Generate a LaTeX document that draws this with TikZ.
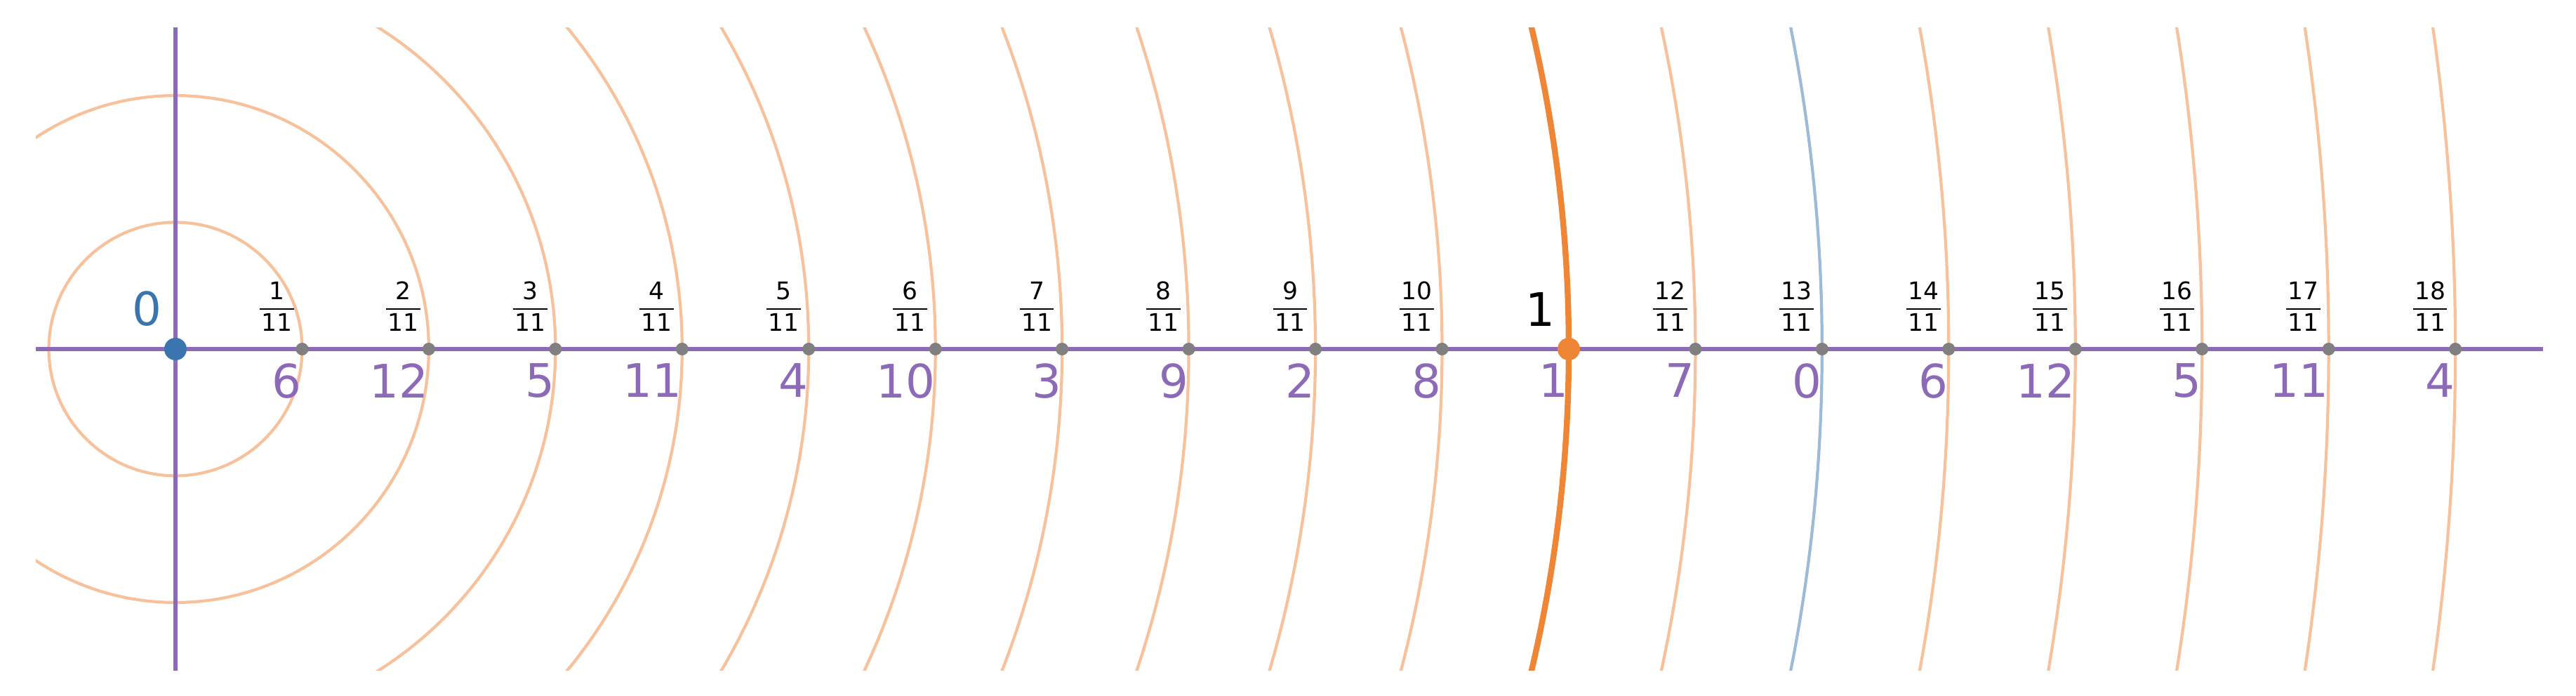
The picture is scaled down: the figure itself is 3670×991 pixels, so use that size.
\documentclass[tikz,border=0pt]{standalone}
\usepackage{fontspec}
\setmainfont{DejaVu Sans}
\definecolor{cpurple}{HTML}{8D6AB8}
\definecolor{cblue}{HTML}{3B75AF}
\definecolor{corange}{HTML}{EF8636}
\definecolor{corangel}{HTML}{F7C29B}
\definecolor{cbluel}{HTML}{9DBAD7}
\definecolor{cgray}{HTML}{808080}
\newcommand{\fracbox}[2]{%
  \setbox0=\hbox{#1}\setbox2=\hbox{#2}%
  \dimen0=\ifdim\wd0>\wd2 \wd0\else\wd2\fi
  \advance\dimen0 by 1.4pt
  \vbox{\hbox to\dimen0{\hss\box0\hss}\kern3.5pt\hrule height0.57pt\kern1.7pt\hbox to\dimen0{\hss\box2\hss}}}
\begin{document}
\begin{tikzpicture}[x=0.01cm,y=0.01cm,
  lightcirc/.style={draw=corangel,line width=1.2pt},
  thickcirc/.style={draw=corange,line width=2.4pt},
  bluecirc/.style={draw=cbluel,line width=1.2pt},
  axisline/.style={draw=cpurple,line width=1.55pt},
  graydot/.style={circle,fill=cgray,inner sep=0pt,minimum size=0.18cm},
  bigdot/.style={circle,inner sep=0pt,minimum size=0.32cm},
  biglabel/.style={inner sep=0pt,font=\fontsize{18.7}{22}\selectfont},
  plabel/.style={biglabel,text=cpurple,anchor=north east},
  flabel/.style={inner sep=0pt,font=\fontsize{9.8}{12}\selectfont,anchor=south east}]
\useasboundingbox (-250,-494) rectangle (3420,497);
\coordinate (O) at (0,0);
\coordinate (xl) at (-199,0);
\coordinate (xr) at (3373,0);
\coordinate (yb) at (0,-457.5);
\coordinate (yt) at (0,457.5);
\begin{scope}
  \clip (-199,-457.5) rectangle (3373,457.5);
  \foreach \k in {1,...,10,12,14,15,16,17,18}
    \draw[lightcirc] (O) circle[radius=180.45*\k];
  \draw[bluecirc] (O) circle[radius=180.45*13];
  \draw[thickcirc] (O) circle[radius=1985];
\end{scope}
\draw[axisline] (xl) -- (xr);
\draw[axisline] (yb) -- (yt);
\foreach \k in {1,...,18}
  \node[graydot] (d\k) at (180.45*\k,0) {};
\node[bigdot,fill=cblue] (dzero) at (O) {};
\node[bigdot,fill=corange] (done) at (1985,0) {};
\foreach \k [evaluate=\k as \m using {int(mod(6*\k,13))}] in {1,...,18}
  \node[plabel] (p\k) at (180.45*\k,-20) {\m};
\foreach \k in {1,...,10,12,13,14,15,16,17,18}
  \node[flabel] (f\k) at (180.45*\k-11,24.3) {\fracbox{\k}{11}};
\node[biglabel,anchor=south east] (one) at (1966,32) {1};
\node[biglabel,text=cblue,anchor=south east] (zero) at (-19,32) {0};
\end{tikzpicture}
\end{document}
